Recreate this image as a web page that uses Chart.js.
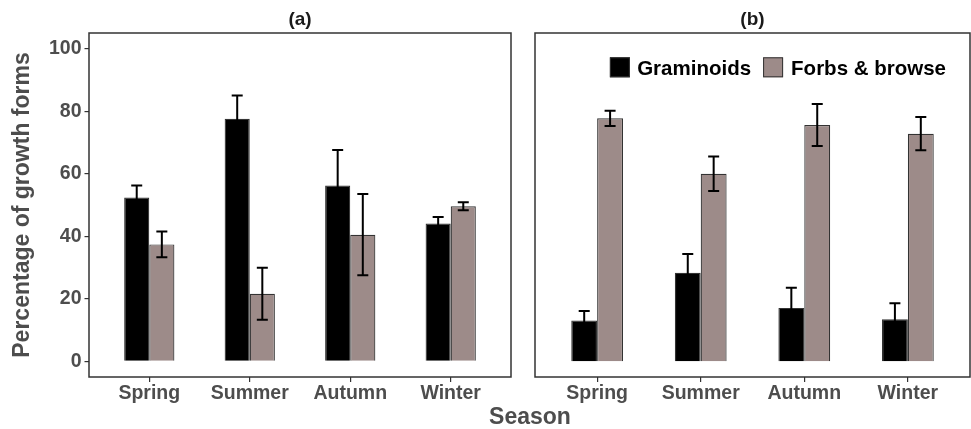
<!DOCTYPE html>
<html>
<head>
<meta charset="utf-8">
<script src="https://cdn.jsdelivr.net/npm/chart.js@4"></script>
<style>
body { margin: 0; background: #fff; width: 971px; height: 429px; position: relative; overflow: hidden; font-family: "Liberation Sans", Arial, sans-serif; }
canvas { position: absolute; top: 0; }
#panelA { left: 0; }
#panelB { left: 522px; }
#xTitle { position: absolute; left: 430px; width: 200px; top: 405px; text-align: center; font-size: 23px; line-height: 23px; font-weight: bold; color: #4d4d4d; }
</style>
</head>
<body>
<canvas id="panelA" width="522" height="429"></canvas>
<canvas id="panelB" width="449" height="429"></canvas>
<div id="xTitle">Season</div>
<script>
const seasons = ["Spring", "Summer", "Autumn", "Winter"];
const seriesNames = ["Graminoids", "Forbs & browse"];
const yTicks = [0, 20, 40, 60, 80, 100];

// panel (a)
const gramA = [52.4, 77.6, 56.2, 44.1];
const gramAErr = [3.8, 7.4, 11.4, 2.1];
const forbA = [37.4, 21.6, 40.5, 49.6];
const forbAErr = [4.1, 8.3, 13.0, 1.3];

// panel (b)
const gramB = [13.1, 28.3, 17.1, 13.5];
const gramBErr = [3.0, 6.0, 6.4, 5.1];
const forbB = [77.7, 60.0, 75.6, 72.8];
const forbBErr = [2.4, 5.5, 6.7, 5.3];

const gramColor = "#000000";
const forbColor = "#9d8b89";
const textGrey = "#4d4d4d";
const lineGrey = "#333333";

Chart.defaults.font.family = "'Liberation Sans', Arial, sans-serif";
Chart.defaults.font.weight = "bold";

// frame, panel title, legend and error bars
const panelDeco = {
    id: "panelDeco",
    afterDatasetsDraw(chart, args, opts) {
        const ctx = chart.ctx;
        const y = chart.scales.y;
        ctx.save();
        // error bars
        chart.data.datasets.forEach((ds, di) => {
            const meta = chart.getDatasetMeta(di);
            meta.data.forEach((bar, i) => {
                const v = ds.data[i].y;
                const e = ds.errors[i];
                const top = y.getPixelForValue(v + e);
                const bot = y.getPixelForValue(v - e);
                const half = 5.5;
                ctx.strokeStyle = "#000";
                ctx.lineWidth = 2;
                ctx.beginPath();
                ctx.moveTo(bar.x, top);
                ctx.lineTo(bar.x, bot);
                ctx.moveTo(bar.x - half, top);
                ctx.lineTo(bar.x + half, top);
                ctx.moveTo(bar.x - half, bot);
                ctx.lineTo(bar.x + half, bot);
                ctx.stroke();
            });
        });
        // frame
        const a = chart.chartArea;
        ctx.strokeStyle = lineGrey;
        ctx.lineWidth = 1.5;
        ctx.strokeRect(a.left, a.top, a.right - a.left, a.bottom - a.top);
        // title
        ctx.fillStyle = "#1a1a1a";
        ctx.font = "bold 19px 'Liberation Sans', Arial, sans-serif";
        ctx.textAlign = "center";
        ctx.textBaseline = "alphabetic";
        ctx.fillText(opts.title, (a.left + a.right) / 2, 25);
        // legend
        if (opts.legend) {
            ctx.font = "bold 20.5px 'Liberation Sans', Arial, sans-serif";
            ctx.textAlign = "left";
            const w0 = ctx.measureText(chart.data.datasets[0].label).width;
            const w1 = ctx.measureText(chart.data.datasets[1].label).width;
            const total = 20 + 7.3 + w0 + 12 + 20 + 8 + w1;
            let x = a.right - 24 - total;
            const sqTop = a.top + 24.3;
            chart.data.datasets.forEach((ds, di) => {
                ctx.fillStyle = ds.backgroundColor;
                ctx.fillRect(x, sqTop, 20, 20);
                ctx.strokeStyle = lineGrey;
                ctx.lineWidth = 1;
                ctx.strokeRect(x + 0.5, sqTop + 0.5, 19, 19);
                x += 20 + (di === 0 ? 7.3 : 8);
                ctx.fillStyle = "#000";
                ctx.fillText(ds.label, x, a.top + 42);
                x += (di === 0 ? w0 : w1) + 12;
            });
        }
        ctx.restore();
    }
};

function toPoints(vals) {
    return vals.map((v, i) => ({ x: i + 1, y: v }));
}

function makePanel(id, title, gram, gramErr, forb, forbErr, showY, showLegend, pad) {
    return new Chart(document.getElementById(id), {
        type: "bar",
        data: {
            datasets: [
                { label: seriesNames[0], data: toPoints(gram), errors: gramErr,
                  backgroundColor: gramColor, borderColor: lineGrey, borderWidth: 1.2 },
                { label: seriesNames[1], data: toPoints(forb), errors: forbErr,
                  backgroundColor: forbColor, borderColor: lineGrey, borderWidth: 1.2 }
            ]
        },
        options: {
            responsive: false,
            animation: false,
            categoryPercentage: 0.5,
            barPercentage: 1.0,
            layout: { padding: pad },
            plugins: {
                legend: { display: false },
                tooltip: { enabled: false },
                panelDeco: { title: title, legend: showLegend }
            },
            scales: {
                x: {
                    type: "linear",
                    min: 0.4,
                    max: 4.6,
                    offset: false,
                    afterBuildTicks: s => { s.ticks = seasons.map((n, i) => ({ value: i + 1 })); },
                    afterFit: s => { s.height = 52; },
                    border: { display: false },
                    grid: { offset: false, drawOnChartArea: false, drawTicks: true, tickLength: 5, color: lineGrey, lineWidth: 1.2 },
                    ticks: {
                        padding: 0,
                        color: textGrey,
                        font: { size: 19.5, weight: "bold" },
                        maxRotation: 0,
                        autoSkip: false,
                        callback: v => seasons[v - 1]
                    }
                },
                y: {
                    min: -5,
                    max: 105,
                    display: showY,
                    afterBuildTicks: s => { s.ticks = yTicks.map(v => ({ value: v })); },
                    afterFit: s => { if (showY) s.width = 89; },
                    border: { display: false },
                    grid: { drawOnChartArea: false, drawTicks: true, tickLength: 4.5, color: lineGrey, lineWidth: 1.2 },
                    ticks: {
                        padding: 3,
                        color: textGrey,
                        font: { size: 19.5, weight: "bold" }
                    },
                    title: {
                        display: true,
                        text: "Percentage of growth forms",
                        color: textGrey,
                        font: { size: 23, weight: "bold" },
                        padding: { top: 9, bottom: 0 }
                    }
                }
            }
        },
        plugins: [panelDeco]
    });
}

makePanel("panelA", "(a)", gramA, gramAErr, forbA, forbAErr, true, false,
    { left: 0, top: 33, right: 11, bottom: 0 });
makePanel("panelB", "(b)", gramB, gramBErr, forbB, forbBErr, false, true,
    { left: 13, top: 33, right: 1, bottom: 0 });
</script>
</body>
</html>
